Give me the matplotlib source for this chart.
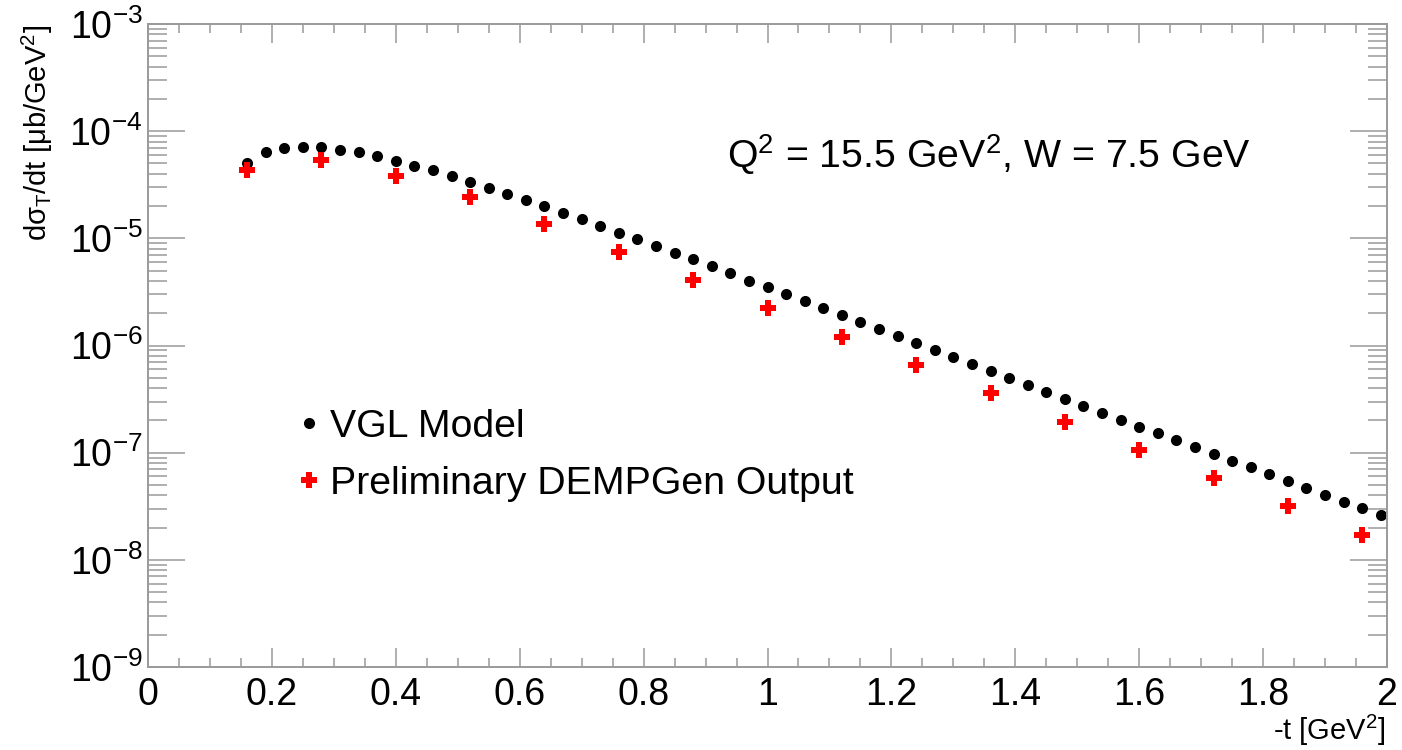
import matplotlib
matplotlib.use("Agg")
import matplotlib.pyplot as plt
from matplotlib.ticker import MultipleLocator, LogLocator, LogFormatterMathtext, FuncFormatter, NullFormatter

plt.rcParams['font.family'] = ['Liberation Sans', 'DejaVu Sans']
plt.rcParams['mathtext.fontset'] = 'custom'
plt.rcParams['mathtext.rm'] = 'Liberation Sans'
plt.rcParams['mathtext.it'] = 'Liberation Sans:italic'
plt.rcParams['mathtext.bf'] = 'Liberation Sans:bold'

# VGL model, -t [GeV^2] vs dsigma_T/dt [ub/GeV^2]
t_vgl = [0.16, 0.19, 0.22, 0.25, 0.28, 0.31, 0.34, 0.37, 0.40, 0.43,
         0.46, 0.49, 0.52, 0.55, 0.58, 0.61, 0.64, 0.67, 0.70, 0.73,
         0.76, 0.79, 0.82, 0.85, 0.88, 0.91, 0.94, 0.97, 1.00, 1.03,
         1.06, 1.09, 1.12, 1.15, 1.18, 1.21, 1.24, 1.27, 1.30, 1.33,
         1.36, 1.39, 1.42, 1.45, 1.48, 1.51, 1.54, 1.57, 1.60, 1.63,
         1.66, 1.69, 1.72, 1.75, 1.78, 1.81, 1.84, 1.87, 1.90, 1.93,
         1.96, 1.99]
sig_vgl = [5.07e-5, 6.37e-5, 7.00e-5, 7.19e-5, 7.08e-5, 6.74e-5, 6.37e-5, 5.83e-5, 5.28e-5, 4.78e-5,
           4.30e-5, 3.79e-5, 3.39e-5, 2.96e-5, 2.60e-5, 2.26e-5, 1.99e-5, 1.73e-5, 1.50e-5, 1.31e-5,
           1.13e-5, 9.80e-6, 8.41e-6, 7.31e-6, 6.37e-6, 5.47e-6, 4.71e-6, 4.04e-6, 3.48e-6, 3.00e-6,
           2.58e-6, 2.24e-6, 1.94e-6, 1.66e-6, 1.42e-6, 1.22e-6, 1.06e-6, 9.12e-7, 7.84e-7, 6.75e-7,
           5.80e-7, 4.99e-7, 4.29e-7, 3.69e-7, 3.20e-7, 2.75e-7, 2.36e-7, 2.03e-7, 1.75e-7, 1.51e-7,
           1.31e-7, 1.13e-7, 9.72e-8, 8.42e-8, 7.31e-8, 6.28e-8, 5.40e-8, 4.71e-8, 4.05e-8, 3.48e-8,
           3.02e-8, 2.63e-8]

# DEMPGen generator output
t_demp = [0.16, 0.28, 0.40, 0.52, 0.64, 0.76, 0.88, 1.00,
          1.12, 1.24, 1.36, 1.48, 1.60, 1.72, 1.84, 1.96]
sig_demp = [4.30e-5, 5.44e-5, 3.79e-5, 2.45e-5, 1.37e-5, 7.46e-6, 4.08e-6, 2.22e-6,
            1.21e-6, 6.60e-7, 3.59e-7, 1.94e-7, 1.05e-7, 5.77e-8, 3.16e-8, 1.70e-8]

fig = plt.figure(figsize=(14.02, 7.5), dpi=100)
ax = fig.add_axes([148/1402, 83/750, 1239/1402, 643/750])

ax.plot(t_vgl, sig_vgl, 'o', color='black', markersize=8, markeredgewidth=0, label='VGL Model')
ax.plot(t_demp, sig_demp, 'P', color='red', markersize=11.5, markeredgewidth=0,
        label='Preliminary DEMPGen Output')

ax.set_xlim(0, 2)
ax.set_yscale('log')
ax.set_ylim(1e-9, 1e-3)

ax.xaxis.set_major_locator(MultipleLocator(0.2))
ax.xaxis.set_minor_locator(MultipleLocator(0.05))
ax.xaxis.set_major_formatter(FuncFormatter(lambda v, p: f"{v:g}"))
ax.yaxis.set_major_locator(LogLocator(base=10, numticks=20))
ax.yaxis.set_minor_locator(LogLocator(base=10, subs=range(2, 10), numticks=20))
ax.yaxis.set_major_formatter(LogFormatterMathtext())
ax.yaxis.set_minor_formatter(NullFormatter())

grey = '#9a9a9a'
for s in ax.spines.values():
    s.set_color(grey)
    s.set_linewidth(1.4)
ax.tick_params(which='both', direction='in', top=True, right=True, color=grey,
               width=1.1, labelcolor='black', labelsize=27)
ax.tick_params(axis='x', which='major', length=13.7, pad=7)
ax.tick_params(axis='x', which='minor', length=6.8)
ax.tick_params(axis='y', which='major', length=26.6, pad=4)
ax.tick_params(axis='y', which='minor', length=13.7)

fig.text(1386/1402, 1 - 740/750, '-t [GeV$^2$]', fontsize=21, ha='right', va='baseline')
fig.text(37/1402, 1 - 25/750, 'dσ$_\\mathrm{T}$/dt [μb/GeV$^2$]', fontsize=21,
         rotation=90, ha='center', va='top')
fig.text(727/1402, 1 - 168/750, 'Q$^2$ = 15.5 GeV$^2$, W = 7.5 GeV', fontsize=28.3,
         ha='left', va='baseline')

ax.legend(loc='center left', bbox_to_anchor=(297/1402, 1 - 455.5/750),
          bbox_transform=fig.transFigure, frameon=False, fontsize=28.3,
          handlelength=0.6, handletextpad=0.25, borderpad=0, borderaxespad=0,
          labelspacing=0.54)

fig.savefig('out.png', dpi=100)
